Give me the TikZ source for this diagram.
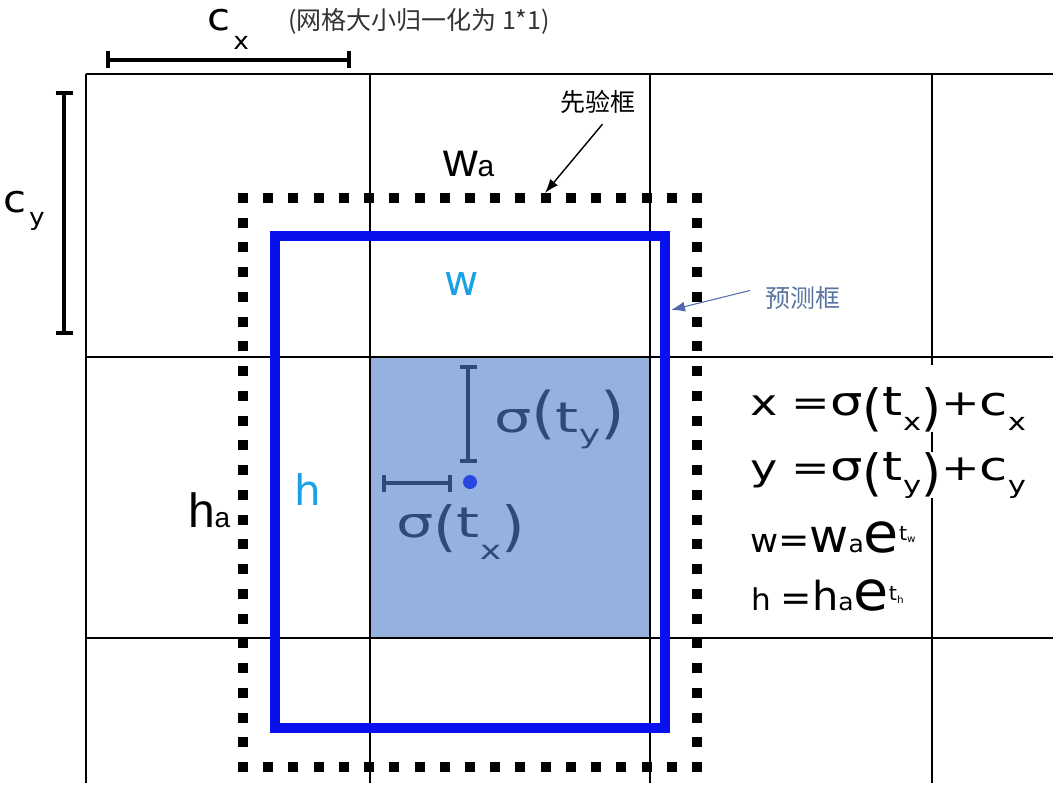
\documentclass[tikz,border=0pt]{standalone}
\usepackage{fontspec}
\setmainfont{DejaVu Sans}
\newfontfamily\arialfont{Liberation Sans}
\newfontfamily\cjkfont{Noto Sans CJK SC}
\usepackage{xcolor}
\usepackage{graphicx}
\usepackage{tikz}
\usetikzlibrary{arrows.meta, positioning, calc}

\definecolor{cellblue}{RGB}{149,177,221}
\definecolor{navy}{RGB}{46,74,120}
\definecolor{predblue}{RGB}{8,16,235}
\definecolor{labelblue}{RGB}{26,160,230}
\definecolor{slate}{RGB}{90,116,160}
\definecolor{dotblue}{RGB}{40,70,225}

\newcommand{\fsz}[1]{\fontsize{#1}{#1}\selectfont}
\newcommand{\lowtxt}[3][24]{\raisebox{#2}{\fsz{#1}#3}}
\newcommand{\wide}[2]{\scalebox{#1}[1]{#2}}
% thin tall parenthesis: size, drop, glyph
\newcommand{\tallp}[3]{\raisebox{#2}{\scalebox{0.8}[1]{\fsz{#1}#3}}}

\begin{document}
\begin{tikzpicture}[
    x=1pt, y=-1pt,
    every node/.style={inner sep=0pt, outer sep=0pt},
    gridline/.style={draw=black, line width=2pt},
    anchordot/.style={fill=black},
    predbox/.style={draw=predblue, line width=10pt},
    dimbar/.style={{Bar[width=17pt]}-{Bar[width=17pt]}, line width=4pt},
    offsetbar/.style={{Bar[width=17pt]}-{Bar[width=17pt]}, line width=4pt, draw=navy},
    centerdot/.style={circle, fill=dotblue, minimum size=14pt},
    eqtext/.style={anchor=base west, text=black},
    sigtext/.style={anchor=base west, text=navy},
    note/.style={anchor=base west, font=\cjkfont\fsz{25}},
    arrow/.style={-{Latex[length=14pt,width=10pt]}, line width=1.4pt}
]
\useasboundingbox (0,0) rectangle (1064,794);

% grid
\fill[cellblue] (370,357) rectangle (650,638);
\foreach \gx in {86,370,650,932} \draw[gridline] (\gx,74) -- (\gx,783);
\foreach \gy in {74,357,638} \draw[gridline] (86,\gy) -- (1053,\gy);

% anchor box (square dots)
\foreach \i in {0,...,18} {
    \fill[anchordot] ({243+\i*25.22-5},193) rectangle +(10,10);
    \fill[anchordot] ({243+\i*25.22-5},762) rectangle +(10,10);
}
\foreach \j in {1,...,22} {
    \fill[anchordot] (238,{198+\j*24.74-5}) rectangle +(10,10);
    \fill[anchordot] (692,{198+\j*24.74-5}) rectangle +(10,10);
}
% predicted box
\draw[predbox] (275,236) rectangle (665,728);

% cell size
\coordinate (cxl) at (106,60);
\coordinate (cxr) at (351,60);
\coordinate (cyt) at (64,91);
\coordinate (cyb) at (64,335);
\draw[dimbar] (cxl) -- (cxr);
\draw[dimbar] (cyt) -- (cyb);
\node[eqtext] (cxlbl) at (207,31) {\wide{1.1}{\fsz{38}c\kern3pt\lowtxt{-19pt}{x}}};
\node[eqtext] (cylbl) at (4,213) {\wide{1.1}{\fsz{38}c\kern2pt\lowtxt{-13pt}{y}}};
\node[note, text=black!80] (gridnote) at (288,30) {(网格大小归一化为 1*1)};

% offsets
\node[centerdot] (ctr) at (470,482) {};
\coordinate (oyt) at (468,365);
\coordinate (oyb) at (468,463);
\coordinate (oxl) at (382,483);
\coordinate (oxr) at (452,483);
\draw[offsetbar] (oyt) -- (oyb);
\draw[offsetbar] (oxl) -- (oxr);
\node[sigtext] (sigy) at (494,432) {\wide{1.4}{\fsz{42}σ\tallp{56}{0pt}{(}\fsz{42}t\lowtxt[26]{-11pt}{y}\tallp{56}{0pt}{)}}};
\node[sigtext] (sigx) at (396,537) {\wide{1.4}{\fsz{42}σ\tallp{54}{-8pt}{(}\fsz{42}t\lowtxt[26]{-22pt}{x}\tallp{54}{-8pt}{)}}};

% box labels
\node[eqtext, font=\arialfont\fsz{48}] (walbl) at (443,177) {w{\fsz{30}a}};
\node[eqtext, font=\arialfont\fsz{48}] (halbl) at (188,527) {h{\fsz{28}a}};
\node[eqtext, text=labelblue, font=\fsz{42}] (wlbl) at (444,295) {w};
\node[eqtext, text=labelblue, font=\fsz{42}] (hlbl) at (294,505) {h};

% notes
\node[note] (priorlbl) at (560,112) {先验框};
\node[note, text=slate] (predlbl) at (765,307) {预测框};
\coordinate (priortip) at (545,193);
\coordinate (predtip) at (671,310);
\draw[arrow] ([shift={(5pt,-10pt)}]priorlbl.south) -- (priortip);
\draw[arrow, draw=slate!90!blue, fill=slate!90!blue, line width=1pt] ([shift={(-15pt,7pt)}]predlbl.west) -- (predtip);

% equations
\node[eqtext, fill=white] (eqx) at (750,415) {\rule{0pt}{50pt}\wide{1.28}{\fsz{36}x =\fsz{40}σ\tallp{50}{-10pt}{(}\fsz{40}t\lowtxt{-15pt}{x}\tallp{50}{-10pt}{)}\fsz{36}+\fsz{40}c\lowtxt{-15pt}{x}}};
\node[eqtext, fill=white] (eqy) at (750,480) {\wide{1.28}{\fsz{36}y =\fsz{40}σ\tallp{50}{-10pt}{(}\fsz{40}t\lowtxt{-13pt}{y}\tallp{50}{-10pt}{)}\fsz{36}+\fsz{40}c\lowtxt{-13pt}{y}}};
\node[eqtext] (eqw) at (750,552) {\wide{1.04}{\fsz{33}w\fsz{36}=\fsz{46}w\fsz{24}a\fsz{55}e\raisebox{12pt}{\fsz{20}t\lowtxt[10]{-2pt}{w}}}};
\node[eqtext] (eqh) at (751,610) {\wide{1.04}{\fsz{30}h \fsz{36}=\fsz{40}h\fsz{24}a\fsz{55}e\raisebox{10pt}{\fsz{20}t\lowtxt[10]{-3pt}{h}}}};

\end{tikzpicture}
\end{document}
